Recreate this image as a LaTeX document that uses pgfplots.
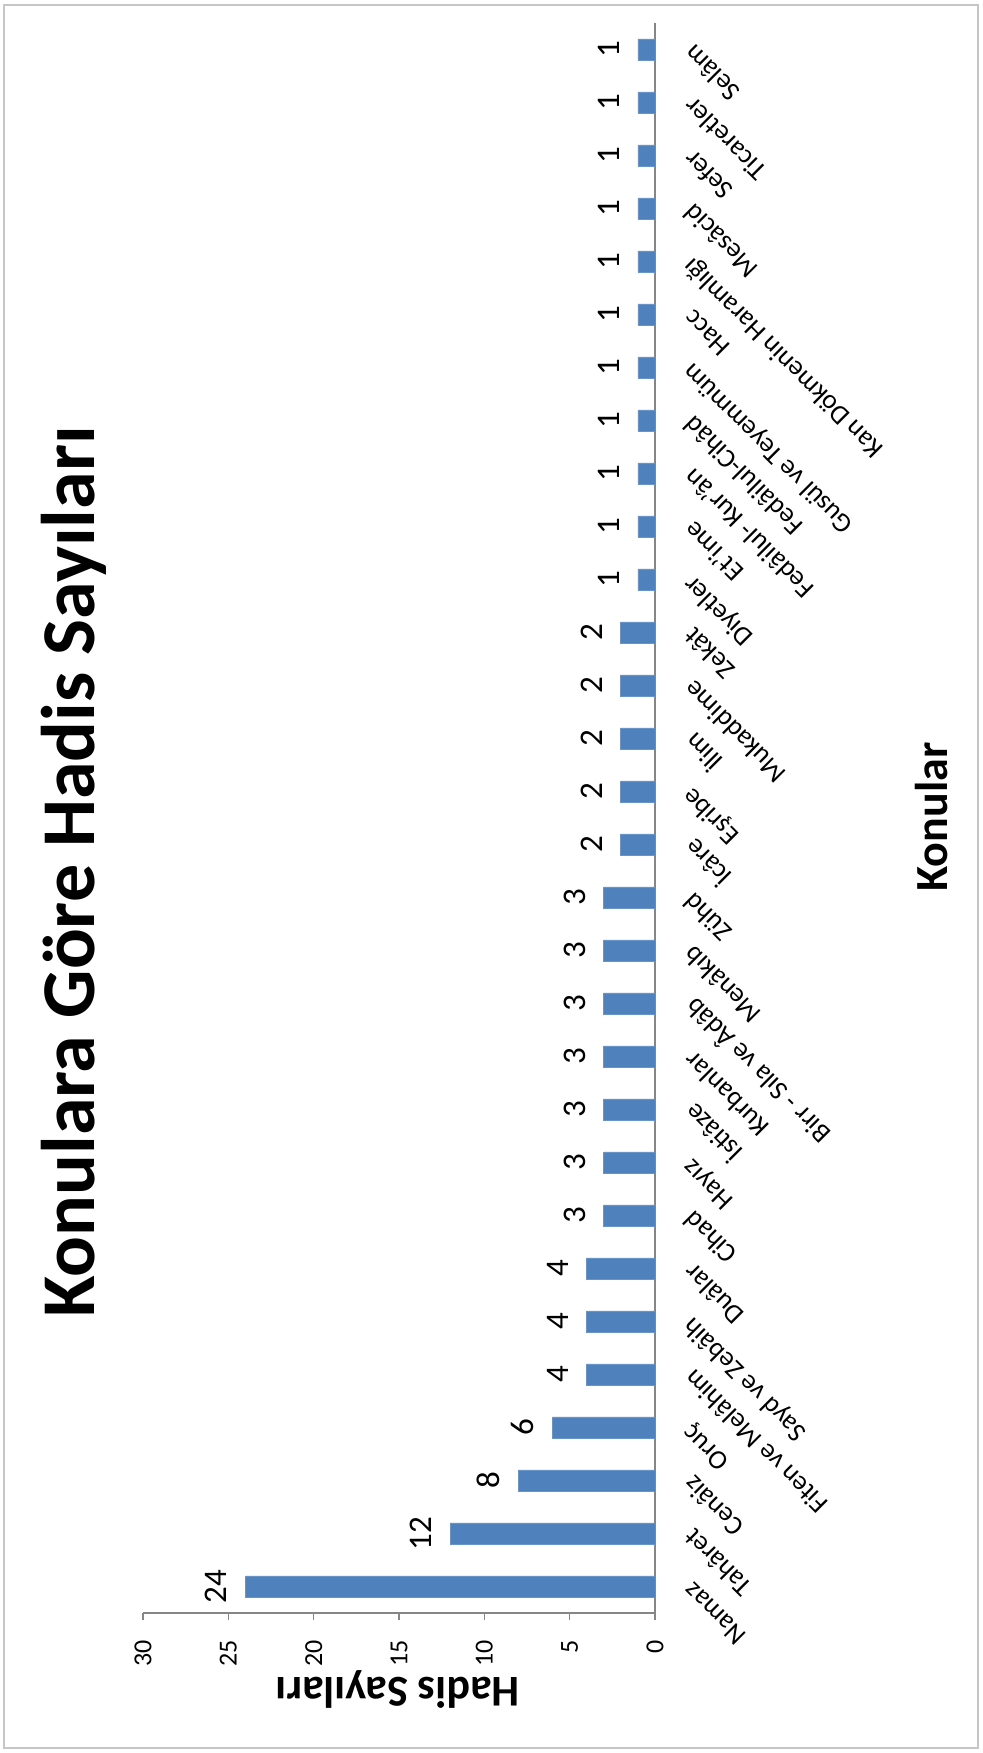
\documentclass[border=0pt]{standalone}
\usepackage{pgfplots}
\pgfplotsset{compat=1.18}
\usepackage{fontspec}
\setmainfont{Carlito}
\definecolor{barblue}{HTML}{4F81BD}
\definecolor{axgray}{HTML}{868686}
\begin{document}
\begin{tikzpicture}
\path[use as bounding box] (0pt,0pt) rectangle (491pt,876.5pt);
\draw[gray!45, line width=1pt] (2pt,2.5pt) rectangle (489pt,874pt);
\begin{axis}[
  at={(199.5pt,467.5pt)}, anchor=center,
  scale only axis, width=256pt, height=795pt,
  xbar, x dir=reverse,
  xmin=0, xmax=30, ymin=-0.5, ymax=29.5,
  bar width=10.5pt,
  axis x line*=bottom, axis y line*=right,
  axis line style={axgray, line width=0.75pt},
  xtick={0,5,...,30}, xtick align=outside, major tick length=3.5pt,
  xtick style={axgray, line width=0.75pt},
  ytick={0,...,29}, ytick style={draw=none},
  yticklabels={Namaz,Tahâret,Cenâiz,Oruç,Fiten ve Melâhim,Sayd ve Zebâih,Duâlar,Cihad,Hayız,İstiâze,Kurbanlar,Birr - Sıla ve Âdâb,Menâkıb,Zühd,İcâre,Eşribe,İlim,Mukaddime,Zekât,Diyetler,Et’ime,Fedâilul- Kur’ân,Fedâilul-Cihâd,Gusül ve Teyemmüm,Hacc,Kan Dökmenin Haramlığı,Mesâcid,Sefer,Ticaretler,Selâm},
  /pgf/number format/assume math mode=true,
  xticklabel style={font=\fontsize{13}{15}\selectfont, yshift=-10pt, rotate=90, anchor=east, inner sep=0pt},
  yticklabel style={font=\fontsize{13.5}{16}\selectfont, xshift=13pt, rotate=135, anchor=east, inner sep=0pt},
  nodes near coords,
  every node near coord/.append style={font=\fontsize{16.5}{19}\selectfont, rotate=90, anchor=south, inner xsep=0pt, inner ysep=9pt, text=black},
]
\addplot[fill=barblue, draw=barblue!85!white] coordinates {
(24,0) (12,1) (8,2) (6,3) (4,4) (4,5) (4,6) (3,7) (3,8) (3,9)
(3,10) (3,11) (3,12) (3,13) (2,14) (2,15) (2,16) (2,17) (2,18) (1,19)
(1,20) (1,21) (1,22) (1,23) (1,24) (1,25) (1,26) (1,27) (1,28) (1,29)
};
\end{axis}
\node[rotate=90, anchor=base, font=\fontsize{38}{44}\selectfont\bfseries] at (47pt,440.5pt) {Konulara Göre Hadis Sayıları};
\node[rotate=90, anchor=base, font=\fontsize{23}{27}\selectfont\bfseries] at (473.5pt,468pt) {Konular};
\node[rotate=180, anchor=base, font=\fontsize{22}{26}\selectfont\bfseries] at (199pt,38pt) {Hadis Sayıları};
\end{tikzpicture}
\end{document}
